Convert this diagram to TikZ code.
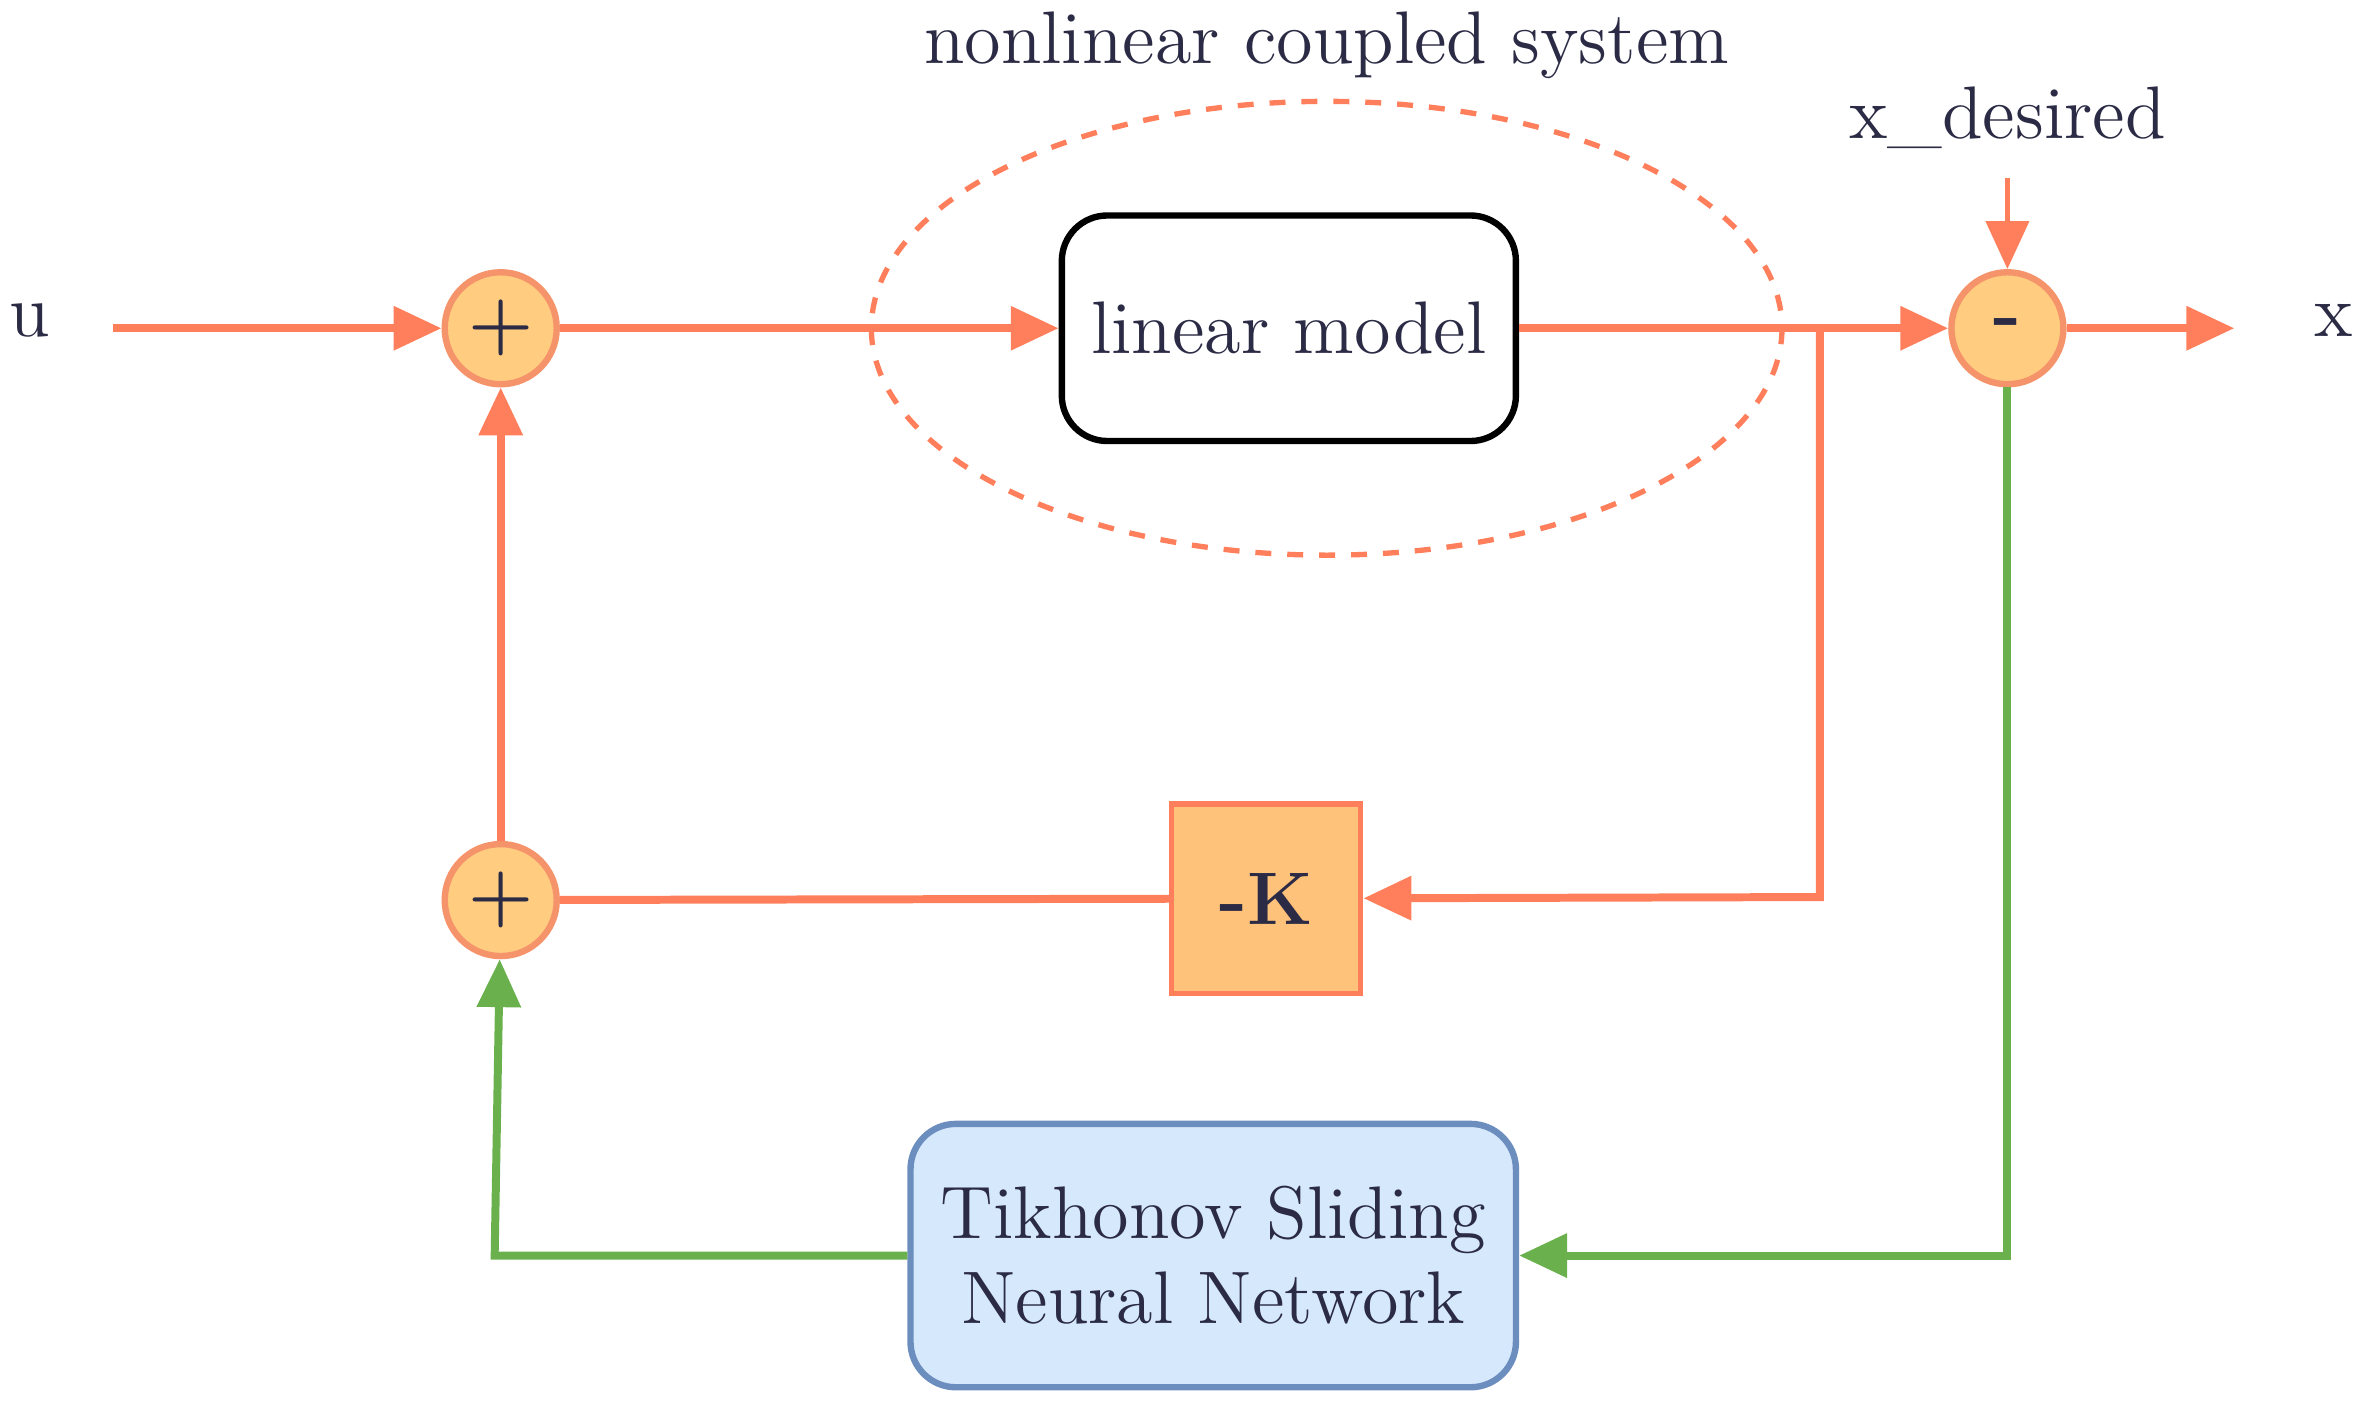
\documentclass[tikz,border=0pt]{standalone}
\usetikzlibrary{arrows.meta}
\definecolor{sal}{HTML}{FF7F5C}
\definecolor{sumf}{HTML}{FFCC80}
\definecolor{sumd}{HTML}{F5936A}
\definecolor{txt}{HTML}{2B2B45}
\definecolor{grn}{HTML}{6AB04C}
\definecolor{bluef}{HTML}{D6E8FC}
\definecolor{blued}{HTML}{6C8EBF}
\definecolor{kf}{HTML}{FFC27A}
\begin{document}
\begin{tikzpicture}[x=0.01cm,y=-0.01cm,
  every node/.style={text=txt,font=\fontsize{14}{16}\selectfont},
  sum/.style={circle,draw=sumd,fill=sumf,line width=1.2pt,minimum size=0.74cm,inner sep=0pt,font=\fontsize{14}{16}\selectfont\bfseries},
  sl/.style={draw=sal,line width=1.5pt},
  gl/.style={draw=grn,line width=1.5pt},
  arr/.style={-{Triangle[length=9pt,width=8pt]}}]
\useasboundingbox (0,0) rectangle (1568,934);
\node (u) at (20,212) {u};
\node (xo) at (1543,212) {x};
\node (nl) at (877,30) {nonlinear coupled system};
\node (xd) at (1327,78) {x\_desired};
\coordinate (xdt) at (1327,118);
\coordinate (us) at (75,217);
\coordinate (xe) at (1477,217);
\draw[sal,dashed,line width=1pt] (877,217) ellipse [x radius=301,y radius=150];
\node[sum] (s1) at (331,217) {+};
\node[sum] (s2) at (331,595) {+};
\node[sum] (sm) at (1327,217) {-};
\node[draw=black,line width=1.2pt,rounded corners=0.3cm,minimum width=3cm,minimum height=1.49cm] (lm) at (852,217) {linear model};
\node[draw=sal,fill=kf,line width=1pt,minimum width=1.25cm,minimum height=1.25cm,font=\fontsize{14}{16}\selectfont\bfseries] (k) at (837,594) {-K};
\node[draw=blued,fill=bluef,line width=1.2pt,rounded corners=0.3cm,minimum width=4cm,minimum height=1.74cm,align=center] (nn) at (802,830) {Tikhonov Sliding\\Neural Network};
\draw[sl,arr] (us) -- (s1);
\draw[sl,arr] (s1) -- (lm);
\draw[sl,arr] (lm) -- (sm);
\draw[sl,arr] (sm) -- (xe);
\draw[sl,arr,line width=1pt] (xdt) -- (sm);
\draw[sl,arr] (1203,217) -- (1203,593) -- (k);
\draw[sl] (k) -- (s2);
\draw[sl,arr] (s2) -- (s1);
\draw[gl,arr] (sm) -- (1327,830) -- (nn);
\draw[gl,arr] (nn) -- (327,830) -- (s2);
\end{tikzpicture}
\end{document}
